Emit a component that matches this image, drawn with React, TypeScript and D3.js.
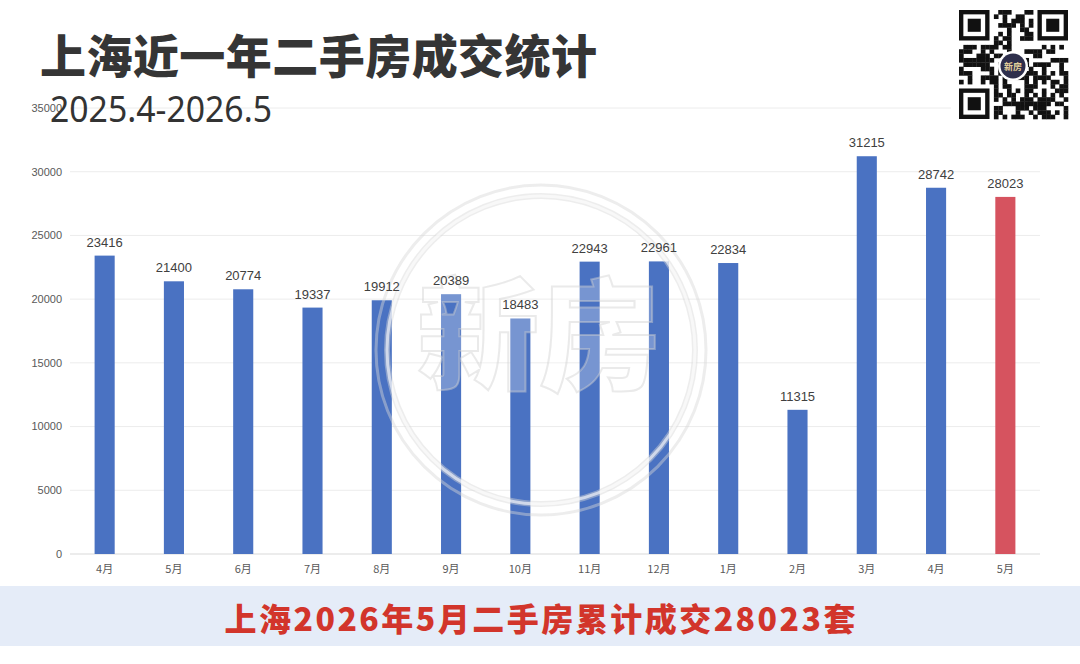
import * as d3 from "d3";
import { useEffect } from "react";

// 月份标签（有重复，所以用下标做比例尺的 key）
const months = ["4月", "5月", "6月", "7月", "8月", "9月", "10月", "11月", "12月", "1月", "2月", "3月", "4月", "5月"];
const deals = [23416, 21400, 20774, 19337, 19912, 20389, 18483, 22943, 22961, 22834, 11315, 31215, 28742, 28023];
const yTicks = [0, 5000, 10000, 15000, 20000, 25000, 30000, 35000];

const title = "上海近一年二手房成交统计";
const subtitle = "2025.4-2026.5";
const banner = "上海2026年5月二手房累计成交28023套";

const W = 1080;
const H = 664;
const CJK = "'Noto Sans CJK SC', 'Noto Sans', sans-serif";
const LATIN = "'Liberation Sans', Arial, sans-serif";

// decorative QR-ish pattern, deterministic
const QR_N = 25;
const qrCells = (() => {
  const cells: [number, number][] = [];
  const inFinder = (r: number, c: number) =>
    (r < 8 && c < 8) || (r < 8 && c >= QR_N - 8) || (r >= QR_N - 8 && c < 8);
  for (let r = 0; r < QR_N; r++) {
    for (let c = 0; c < QR_N; c++) {
      if (inFinder(r, c)) continue;
      const h = Math.sin(r * 12.9898 + c * 78.233) * 43758.5453;
      if (h - Math.floor(h) > 0.5) cells.push([r, c]);
    }
  }
  return cells;
})();

export default function App() {
  useEffect(() => {
    document.body.style.margin = "0";
  }, []);

  const x = d3
    .scaleBand<number>()
    .domain(d3.range(months.length))
    .range([70, 1040])
    .paddingInner(0.71)
    .paddingOuter(0.355);
  const y = d3.scaleLinear().domain([0, 35000]).range([554, 108]);
  const cx = (i: number) => x(i)! + x.bandwidth() / 2;

  const qrX = 959;
  const qrY = 10;
  const qrSize = 109;
  const m = qrSize / QR_N;

  const finder = (fx: number, fy: number, k: string) => (
    <g key={k}>
      <rect x={fx} y={fy} width={7 * m} height={7 * m} fill="#111" />
      <rect x={fx + m} y={fy + m} width={5 * m} height={5 * m} fill="#fff" />
      <rect x={fx + 2 * m} y={fy + 2 * m} width={3 * m} height={3 * m} fill="#111" />
    </g>
  );

  return (
    <svg width={W} height={H} style={{ display: "block", background: "#fff" }}>
      {/* grid */}
      {yTicks.map((t) => (
        <g key={t}>
          <line
            x1={70}
            x2={1040}
            y1={y(t)}
            y2={y(t)}
            stroke={t === 0 ? "#d9d9d9" : "#ececec"}
            strokeWidth={1}
          />
          <text
            x={62}
            y={y(t)}
            dy="0.35em"
            textAnchor="end"
            fontFamily={LATIN}
            fontSize={11}
            fill="#595959"
          >
            {t}
          </text>
        </g>
      ))}

      {/* bars */}
      {deals.map((v, i) => (
        <g key={i}>
          <rect
            x={x(i)!}
            y={y(v)}
            width={x.bandwidth()}
            height={y(0) - y(v)}
            fill={i === deals.length - 1 ? "#d6535f" : "#4a72c2"}
          />
          <text
            x={cx(i)}
            y={573}
            textAnchor="middle"
            fontFamily={CJK}
            fontSize={11}
            fill="#595959"
          >
            {months[i]}
          </text>
        </g>
      ))}

      {/* watermark */}
      <g pointerEvents="none">
        <circle cx={541} cy={350} r={165} fill="none" stroke="#d8d8d8" strokeOpacity={0.45} strokeWidth={3} />
        <circle cx={541} cy={350} r={154} fill="none" stroke="#d8d8d8" strokeOpacity={0.45} strokeWidth={6} />
        <circle cx={541} cy={350} r={154} fill="none" stroke="#fff" strokeOpacity={0.6} strokeWidth={3} />
        <text
          x={539}
          y={326}
          dominantBaseline="central"
          textAnchor="middle"
          fontFamily={CJK}
          fontWeight={900}
          fontSize={122}
          fill="#ffffff"
          fillOpacity={0.25}
          stroke="#d0d0d0"
          strokeOpacity={0.45}
          strokeWidth={2}
        >
          新房
        </text>
      </g>

      {/* value labels above the watermark */}
      {deals.map((v, i) => (
        <text
          key={i}
          x={cx(i)}
          y={y(v) - 9}
          textAnchor="middle"
          fontFamily={LATIN}
          fontSize={13}
          fill="#404040"
        >
          {v}
        </text>
      ))}

      {/* title */}
      <text
        x={40}
        y={53}
        dominantBaseline="central"
        fontFamily={CJK}
        fontWeight={900}
        fontSize={46}
        fill="#353535"
        textLength={557}
      >
        {title}
      </text>
      <text
        x={50}
        y={122}
        fontFamily="'Noto Sans', 'Open Sans', sans-serif"
        fontSize={37}
        fill="#333"
        textLength={222}
        lengthAdjust="spacingAndGlyphs"
      >
        {subtitle}
      </text>

      {/* QR code */}
      <rect x={qrX - 8} y={0} width={qrSize + 16} height={qrSize + 18} fill="#fff" />
      {qrCells.map(([r, c], i) => (
        <rect key={i} x={qrX + c * m} y={qrY + r * m} width={m + 0.3} height={m + 0.3} fill="#111" />
      ))}
      {finder(qrX, qrY, "a")}
      {finder(qrX + (QR_N - 7) * m, qrY, "b")}
      {finder(qrX, qrY + (QR_N - 7) * m, "c")}
      <circle cx={1013} cy={66} r={15} fill="#fff" />
      <circle cx={1013} cy={66} r={12.5} fill="#2e2f4c" />
      <text
        x={1013}
        y={66}
        dominantBaseline="central"
        textAnchor="middle"
        fontFamily={CJK}
        fontWeight={700}
        fontSize={9}
        fill="#e3cf9a"
      >
        新房
      </text>

      {/* bottom banner */}
      <rect x={0} y={586} width={W} height={60} fill="#e5ecf8" />
      <text
        x={540}
        y={617}
        dominantBaseline="central"
        textAnchor="middle"
        fontFamily={CJK}
        fontWeight={900}
        fontSize={32}
        fill="#d2352b"
        textLength={631}
      >
        {banner}
      </text>
    </svg>
  );
}
